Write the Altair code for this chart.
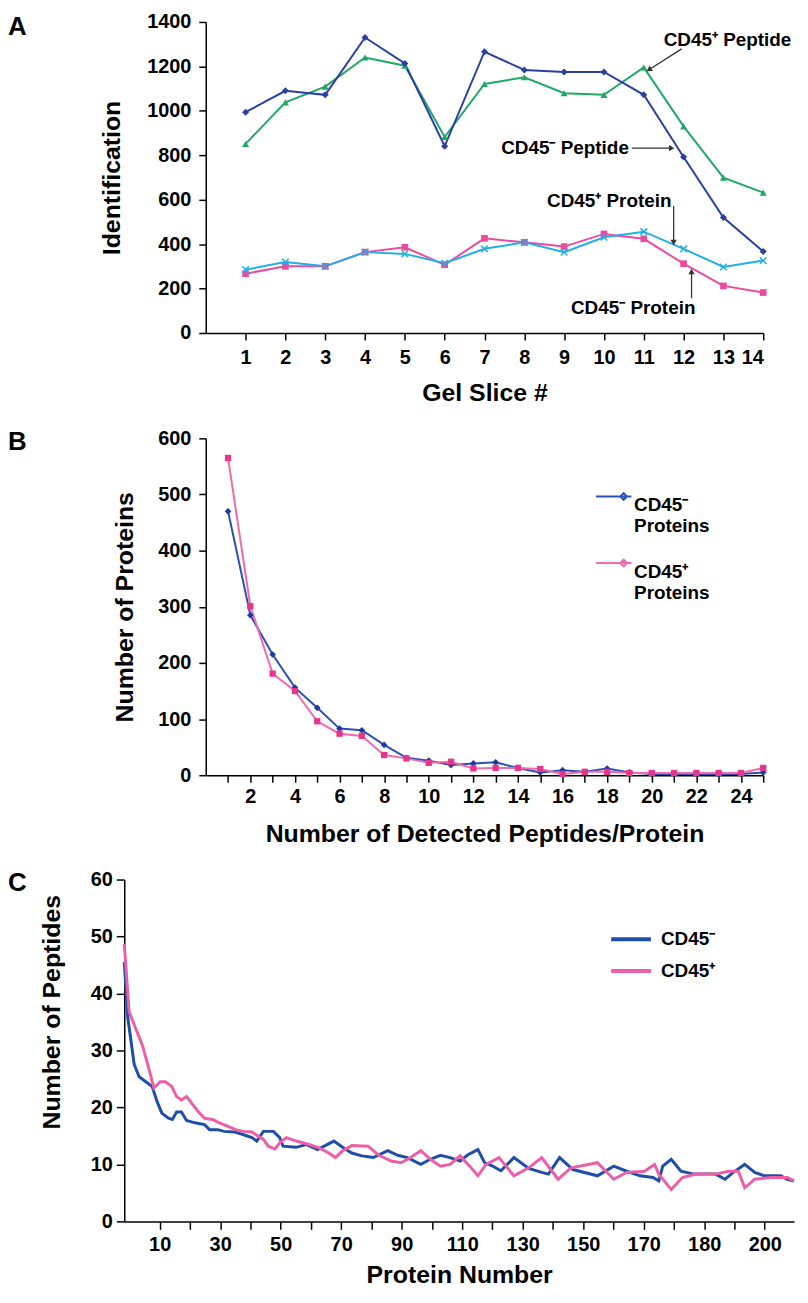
import altair as alt
import pandas as pd

FONT = "Liberation Sans"

# ---------------- Panel A data ----------------
gel_slices = list(range(1, 15))
a_neg_peptide = [994, 1090, 1072, 1330, 1213, 841, 1266, 1184, 1175, 1175, 1072, 792, 520, 367]
a_pos_peptide = [851, 1038, 1109, 1240, 1203, 882, 1121, 1151, 1079, 1072, 1195, 930, 699, 632]
a_pos_protein = [285, 319, 300, 364, 356, 314, 379, 408, 364, 431, 456, 379, 297, 326]
a_neg_protein = [267, 300, 300, 364, 386, 307, 426, 408, 389, 446, 424, 312, 212, 182]
a_series = ["CD45- Protein", "CD45+ Protein", "CD45+ Peptide", "CD45- Peptide"]
a_colors = ["#ea4c9d", "#22aee6", "#1fa866", "#2b3fa3"]
a_yticks = [0, 200, 400, 600, 800, 1000, 1200, 1400]

# annotation texts (data coordinates)
ann_text = ["CD45\u207a Peptide", "CD45\u207b Peptide", "CD45\u207a Protein", "CD45\u207b Protein"]
ann_tx = [11.5, 7.42, 8.57, 9.17]
ann_ty = [1319, 832, 595, 112]
arr_x1 = [11.95, 10.7, 11.75, 12.2]
arr_y1 = [1279, 832, 572, 157]
arr_x2 = [11.13, 11.7, 11.75, 12.2]
arr_y2 = [1185, 832, 407, 277]
arr_angle = [237, 90, 180, 0]

# ---------------- Panel B data ----------------
peptides_per_protein = list(range(1, 26))
b_neg = [470, 285, 215, 156, 120, 83, 80, 54, 31, 26, 18, 21, 23, 13, 5, 9, 6, 12, 5, 2, 2, 2, 2, 2, 5]
b_pos = [565, 301, 181, 150, 96, 74, 70, 36, 30, 22, 24, 12, 13, 13, 11, 2, 6, 6, 4, 4, 4, 4, 4, 4, 13]
b_series = ["CD45\u207b|Proteins", "CD45\u207a|Proteins"]
b_colors = ["#2a4fb5", "#f06aac"]
b_yticks = [0, 100, 200, 300, 400, 500, 600]

# ---------------- Panel C data ----------------
c_neg_x = [-1.7, -0.5, 1.6, 3.2, 5.4, 7.5, 9.1, 10.7, 12.9, 14.2, 15.6, 17.2, 18.9, 21.6, 24.8, 26.5,
           29.2, 31.3, 34.6, 37.8, 40.5, 42.1, 44.3, 47.6, 49.7, 50.8, 55.1, 58.4, 62.2, 67.6, 70.8,
           73.5, 76.8, 80.6, 85.4, 88.7, 91.9, 96.3, 99.5, 102.8, 106.0, 109.3, 111.9, 115.2, 117.4,
           120.1, 122.8, 127.1, 132.0, 136.3, 138.5, 142.2, 146.6, 154.7, 160.1, 164.4, 168.8, 173.1,
           175.0, 176.3, 179.1, 182.3, 186.6, 193.7, 196.9, 199.6, 203.4, 206.7, 209.9, 215.3, 217.5, 219.7]
c_neg_y = [45.5, 35.6, 27.5, 25.4, 24.5, 23.7, 21.1, 19.0, 18.1, 17.9, 19.2, 19.2, 17.7, 17.3, 17.0, 16.1,
           16.1, 15.8, 15.7, 15.2, 14.7, 14.1, 15.8, 15.8, 14.7, 13.2, 13.0, 13.5, 12.6, 14.1, 12.9,
           12.0, 11.5, 11.2, 12.4, 11.6, 11.2, 10.0, 10.9, 11.6, 11.2, 10.6, 11.7, 12.6, 10.3,
           9.7, 8.9, 11.2, 9.3, 8.6, 8.3, 11.2, 9.1, 8.0, 9.7, 8.8, 8.0, 7.7,
           7.1, 9.7, 10.9, 8.8, 8.3, 8.3, 7.4, 8.6, 10.0, 8.6, 8.0, 8.0, 7.4, 7.1]
c_pos_x = [-1.7, -0.1, 2.1, 4.3, 6.4, 8.1, 10.2, 11.9, 14.0, 15.6, 17.2, 18.9, 20.5, 22.7, 24.8, 27.5,
           29.7, 32.4, 35.1, 37.8, 40.5, 42.7, 44.3, 45.9, 48.1, 49.7, 51.9, 55.1, 59.4, 62.7, 65.9,
           68.1, 70.3, 73.5, 78.9, 82.2, 86.5, 89.8, 93.0, 96.3, 99.5, 102.8, 106.0, 109.3, 112.5,
           115.2, 117.9, 122.2, 127.1, 132.0, 136.3, 141.7, 146.0, 154.7, 160.1, 164.4, 170.3, 173.6,
           175.0, 179.1, 182.8, 187.2, 193.7, 198.1, 201.3, 203.4, 206.7, 212.0, 217.5, 219.7]
c_pos_y = [48.7, 36.8, 33.8, 30.9, 26.9, 23.4, 24.5, 24.5, 23.7, 21.9, 21.3, 21.9, 20.8, 19.3, 18.1, 17.9,
           17.3, 16.7, 16.1, 15.8, 15.7, 14.9, 14.4, 13.2, 12.7, 13.8, 14.7, 14.1, 13.5, 12.9, 12.0,
           11.2, 12.3, 13.3, 13.2, 11.7, 10.6, 10.3, 11.2, 12.4, 10.9, 9.7, 10.0, 11.5, 9.7,
           8.0, 10.0, 11.2, 8.0, 9.4, 11.2, 7.4, 9.4, 10.3, 7.4, 8.6, 8.8, 10.0,
           8.3, 5.6, 7.7, 8.3, 8.3, 8.8, 8.8, 5.9, 7.4, 7.7, 7.7, 7.1]
c_series = ["CD45\u207b", "CD45\u207a"]
c_colors = ["#1f4ea8", "#ec5fa6"]
c_tick_values = list(range(10, 220, 10))
c_tick_labels = ["10", "", "30", "", "50", "", "70", "", "90", "", "110", "", "130", "", "150", "",
                 "170", "", "180", "", "200"]
c_yticks = [0, 10, 20, 30, 40, 50, 60]

LETTER_DX = -117   # panel letters, relative to the shared left origin (panel C's y axis)
AB_SHIFT = 82      # panels A and B start this many pixels right of panel C
AB_W = 561
C_W = 674

NO_VIEW = alt.ViewBackground(stroke="transparent", strokeWidth=0, fill="transparent")


# ---------------- common styles ----------------
def axis(**kw):
    base = dict(domainColor="black", domainWidth=1.5, tickColor="black", tickWidth=1.5, tickSize=7,
                labelFont=FONT, labelFontSize=20, labelFontWeight="bold", labelColor="black",
                titleFont=FONT, titleFontSize=25, titleFontWeight="bold", titleColor="black",
                grid=False, labelPadding=8, labelOverlap=False, format="d")
    base.update(kw)
    return alt.Axis(**base)


def letter(ch, dy):
    return alt.Chart(pd.DataFrame({"t": [ch]})).mark_text(
        font=FONT, fontSize=26, fontWeight="bold", align="left", baseline="middle", color="black"
    ).encode(text="t:N", x=alt.value(LETTER_DX), y=alt.value(dy))


# ---------------- Panel A ----------------
rowsA = []
for name, vals in zip(a_series, [a_neg_protein, a_pos_protein, a_pos_peptide, a_neg_peptide]):
    for s, v in zip(gel_slices, vals):
        rowsA.append({"slice": s, "value": v, "series": name})
dfA = pd.DataFrame(rowsA)

xA = alt.X("slice:Q", scale=alt.Scale(domain=[0, 14], nice=False, zero=False,
                                      range=[AB_SHIFT, AB_SHIFT + AB_W]),
           axis=axis(values=gel_slices, title="Gel Slice #", titlePadding=13))
yA = alt.Y("value:Q", scale=alt.Scale(domain=[0, 1400], nice=False),
           axis=axis(values=a_yticks, title="Identification", titlePadding=22, offset=-AB_SHIFT))
colA = alt.Color("series:N", scale=alt.Scale(domain=a_series, range=a_colors), legend=None)

baseA = alt.Chart(dfA)
linesA = baseA.mark_line(strokeWidth=2).encode(x=xA, y=yA, color=colA, order="slice:Q")
shapes = {"CD45- Protein": ("square", True, 45), "CD45+ Protein": ("M-1,-1L1,1M-1,1L1,-1", False, 45),
          "CD45+ Peptide": ("triangle-up", True, 50), "CD45- Peptide": ("diamond", True, 50)}
pointsA = []
for name in a_series:
    shp, filled, size = shapes[name]
    pointsA.append(
        baseA.transform_filter(alt.datum.series == name).mark_point(
            shape=shp, filled=filled, size=size, opacity=1, strokeWidth=1.5
        ).encode(x=xA, y=yA, color=colA)
    )

dfAnn = pd.DataFrame({"slice": ann_tx, "value": ann_ty, "text": ann_text})
dfArr = pd.DataFrame({"slice": arr_x1, "value": arr_y1, "x2": arr_x2, "y2": arr_y2, "ang": arr_angle})
dfHead = pd.DataFrame({"slice": arr_x2, "value": arr_y2, "ang": arr_angle})
annA = alt.Chart(dfAnn).mark_text(font=FONT, fontSize=19, fontWeight="bold", align="left",
                                  baseline="middle", color="black").encode(
    x=xA, y=yA, text="text:N")
arrLines = alt.Chart(dfArr).mark_rule(color="#333333", strokeWidth=1.3).encode(
    x=xA, y=yA, x2="x2:Q", y2="y2:Q")
arrHeads = alt.Chart(dfHead).mark_point(shape="triangle-up", filled=True, size=40, color="#333333",
                                        opacity=1).encode(
    x=xA, y=yA, angle=alt.Angle("ang:Q", scale=None))

panelA = alt.layer(linesA, *pointsA, arrLines, arrHeads, annA, letter("A", 5)).properties(
    width=AB_SHIFT + AB_W, height=313, view=NO_VIEW)

# ---------------- Panel B ----------------
rowsB = []
for name, vals in zip(b_series, [b_neg, b_pos]):
    for p, v in zip(peptides_per_protein, vals):
        rowsB.append({"pep": p, "count": v, "series": name})
dfB = pd.DataFrame(rowsB)

xB = alt.X("pep:Q", scale=alt.Scale(domain=[0, 25], nice=False, zero=False,
                                    range=[AB_SHIFT, AB_SHIFT + AB_W]),
           axis=axis(values=peptides_per_protein,
                     labelExpr="datum.value % 2 == 0 ? datum.label : ''", labelPadding=4,
                     title="Number of Detected Peptides/Protein", titlePadding=16))
yB = alt.Y("count:Q", scale=alt.Scale(domain=[0, 600], nice=False),
           axis=axis(values=b_yticks, title="Number of Proteins", titlePadding=20, offset=-AB_SHIFT))
legB = alt.Legend(title=None, orient="none", legendX=480, legendY=46,
                  labelExpr="split(datum.label, '|')", labelFont=FONT, labelFontSize=19,
                  labelFontWeight="bold", labelColor="black", labelBaseline="top", labelOffset=8,
                  symbolType="M-1.6,0L1.6,0M0.9,-0.3L1.2,0L0.9,0.3L0.6,0Z", symbolSize=500,
                  symbolStrokeWidth=2, rowPadding=14, labelLimit=100)
colB = alt.Color("series:N", scale=alt.Scale(domain=b_series, range=b_colors), legend=legB)
baseB = alt.Chart(dfB)
linesB = baseB.mark_line(strokeWidth=2).encode(x=xB, y=yB, color=colB, order="pep:Q")
ptsBneg = baseB.transform_filter(alt.datum.series == b_series[0]).mark_point(
    shape="diamond", filled=True, size=45, opacity=1, color="#1f3a9e").encode(x=xB, y=yB)
ptsBpos = baseB.transform_filter(alt.datum.series == b_series[1]).mark_point(
    shape="square", filled=True, size=40, opacity=1, color="#e8348c").encode(x=xB, y=yB)

panelB = alt.layer(linesB, ptsBneg, ptsBpos, letter("B", 4)).properties(
    width=AB_SHIFT + AB_W, height=339, view=NO_VIEW)

# ---------------- Panel C ----------------
dfC = pd.concat([
    pd.DataFrame({"x": c_neg_x, "y": c_neg_y, "series": c_series[0]}),
    pd.DataFrame({"x": c_pos_x, "y": c_pos_y, "series": c_series[1]}),
])
c_label_expr = "[" + ",".join("'%s'" % s for s in c_tick_labels) + "][round((datum.value - 10) / 10)]"
xC = alt.X("x:Q", scale=alt.Scale(domain=[-1.7, 219.7], nice=False, zero=False),
           axis=axis(values=c_tick_values, labelExpr=c_label_expr, title="Protein Number",
                     titlePadding=8, labelPadding=5, tickSize=8))
yC = alt.Y("y:Q", scale=alt.Scale(domain=[0, 60], nice=False),
           axis=axis(values=c_yticks, title="Number of Peptides", titlePadding=26, titleY=133,
                     tickSize=8, labelPadding=4))
legC = alt.Legend(title=None, orient="none", legendX=488, legendY=38, labelFont=FONT, labelFontSize=19,
                  labelFontWeight="bold", labelColor="black", symbolType="stroke", symbolSize=1600,
                  symbolStrokeWidth=4, rowPadding=-10, labelOffset=8)
colC = alt.Color("series:N", scale=alt.Scale(domain=c_series, range=c_colors), legend=legC)
linesC = alt.Chart(dfC).mark_line(strokeWidth=3).encode(x=xC, y=yC, color=colC, order="x:Q")

panelC = alt.layer(linesC, letter("C", 4)).properties(width=C_W, height=344, view=NO_VIEW)

chart = alt.concat(panelA, panelB, panelC, columns=1, spacing=23, align="each").resolve_scale(
    color="independent").resolve_legend(color="independent").configure_view(
    stroke="transparent", strokeWidth=0).configure(font=FONT, background="white", padding=0)

chart.save("out.html", embed_options={"renderer": "svg", "actions": False})
